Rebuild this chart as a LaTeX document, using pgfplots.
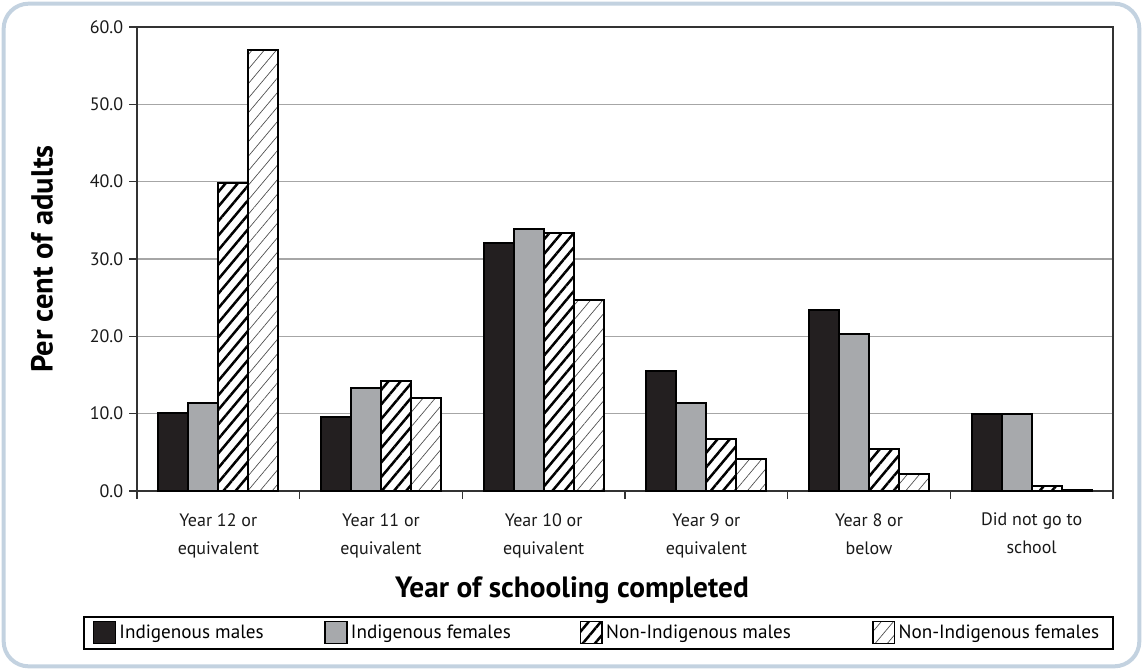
\documentclass[border=0pt]{standalone}
\usepackage{pgfplots}
\pgfplotsset{compat=1.18}
\usepackage{fontspec}
\setmainfont{PT Sans}
\usetikzlibrary{patterns.meta}
\definecolor{framec}{HTML}{C3D2E0}
\definecolor{imc}{HTML}{231F20}
\definecolor{ifc}{HTML}{A7A9AC}
\definecolor{gridc}{HTML}{A6A6A6}
\begin{document}
\begin{tikzpicture}
\useasboundingbox (0,0) rectangle (685.8pt,-402pt);
\draw[framec, line width=2.4pt, rounded corners=15pt] (2.2pt,-2.2pt) rectangle (683.6pt,-399.8pt);
\begin{axis}[
  at={(82.2pt,-294.6pt)}, anchor=south west,
  scale only axis, width=585.6pt, height=278.4pt,
  ybar=0pt, bar width=18pt,
  xmin=-0.5, xmax=5.5, ymin=0, ymax=60,
  xtick={-0.5,0.5,1.5,2.5,3.5,4.5,5.5},
  x tick label as interval,
  xticklabels={Year 12 or\\equivalent, Year 11 or\\equivalent, Year 10 or\\equivalent, Year 9 or\\equivalent, Year 8 or\\below, Did not go to\\school},
  x tick label style={align=center, font=\fontsize{10.8}{16.8}\selectfont, text=black!90, yshift=-5pt},
  ytick={0,10,...,60},
  yticklabel style={font=\fontsize{10.8}{12}\selectfont, text=black!90, /pgf/number format/.cd, fixed, fixed zerofill, precision=1, assume math mode=true},
  xtick pos=bottom, ytick pos=left,
  tick align=outside, major tick length=4.8pt,
  tick style={black!80, line width=0.7pt},
  axis line style={black!80, line width=0.7pt},
  ymajorgrids, grid style={gridc, line width=0.9pt},
  xlabel={Year of schooling completed},
  ylabel={Per cent of adults},
  xlabel style={at={(axis description cs:0.4457,-0.2134)}, anchor=center, font=\bfseries\fontsize{17.6}{19}\selectfont},
  ylabel style={at={(axis description cs:-0.0973,0.5)}, anchor=center, font=\bfseries\fontsize{18.3}{20}\selectfont},
  legend columns=4,
  legend style={at={(axis description cs:-0.0553,-0.2694)}, anchor=north west, draw=black, line width=0.9pt,
    font=\fontsize{11.5}{13}\selectfont, inner xsep=5.5pt, inner ysep=2.5pt,
    /tikz/every even column/.append style={column sep=0pt}},
  legend image code/.code={\draw[#1, line width=0.9pt] (0pt,-6pt) rectangle (13pt,7pt);},
]
\addplot[fill=imc, draw=black, line width=1.1pt] coordinates {(0,10.1)(1,9.6)(2,32.1)(3,15.5)(4,23.4)(5,10.0)};
\addlegendentry{\makebox[121pt][l]{Indigenous males}}
\addplot[fill=ifc, draw=black, line width=1.1pt] coordinates {(0,11.4)(1,13.3)(2,33.9)(3,11.4)(4,20.3)(5,10.0)};
\addlegendentry{\makebox[135.2pt][l]{Indigenous females}}
\addplot[fill=white, draw=black, line width=1.1pt, postaction={pattern={Lines[angle=50,distance=5.6pt,line width=1.5pt]}, pattern color=black}] coordinates {(0,39.8)(1,14.2)(2,33.4)(3,6.7)(4,5.4)(5,0.6)};
\addlegendentry{\makebox[157.6pt][l]{Non-Indigenous males}}
\addplot[fill=white, draw=black, line width=1.1pt, postaction={pattern={Lines[angle=50,distance=5.6pt,line width=0.4pt]}, pattern color=black!70}] coordinates {(0,57.0)(1,12.0)(2,24.7)(3,4.1)(4,2.2)(5,0.2)};
\addlegendentry{\makebox[121pt][l]{Non-Indigenous females}}
\end{axis}
\end{tikzpicture}
\end{document}
